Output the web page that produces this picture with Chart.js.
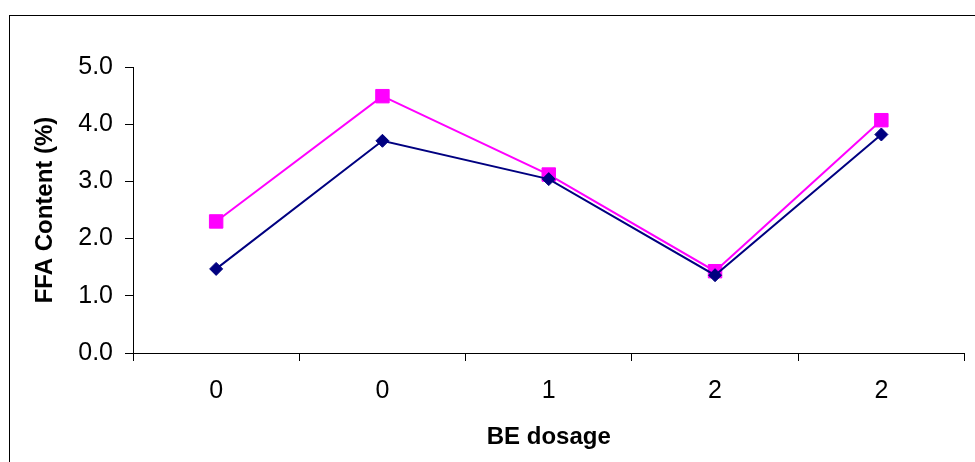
<!DOCTYPE html>
<html>
<head>
<meta charset="utf-8">
<script src="https://cdn.jsdelivr.net/npm/chart.js@4/dist/chart.umd.min.js"></script>
<style>
  html, body { margin: 0; padding: 0; background: #ffffff; }
  canvas { display: block; }
</style>
</head>
<body>
<canvas id="chart" width="975" height="462"></canvas>
<script>
// BE dosage categories and FFA content (%) for the two runs
const categories = ['0', '0', '1', '2', '2'];
const seriesA = [1.47, 3.71, 3.04, 1.36, 3.82];
const seriesB = [2.30, 4.49, 3.12, 1.43, 4.07];
const yTicks = [0, 1, 2, 3, 4, 5];

const FONT = '"Liberation Sans", Arial, Helvetica, sans-serif';

// thin outer frame around the whole chart
const framePlugin = {
  id: 'frame',
  beforeDraw(chart) {
    const ctx = chart.ctx;
    ctx.save();
    ctx.fillStyle = '#ffffff';
    ctx.fillRect(0, 0, chart.width, chart.height);
    ctx.strokeStyle = '#000000';
    ctx.lineWidth = 1;
    ctx.strokeRect(9.5, 15.5, 1200, 800);
    ctx.restore();
  }
};

new Chart(document.getElementById('chart'), {
  type: 'line',
  data: {
    labels: categories,
    datasets: [
      {
        data: seriesA,
        borderColor: '#000080',
        backgroundColor: '#000080',
        borderWidth: 2,
        pointStyle: 'rectRot',
        pointRadius: 6.5,
        pointBorderWidth: 1,
        pointBorderColor: '#000080',
        pointBackgroundColor: '#000080',
        tension: 0,
        clip: false
      },
      {
        data: seriesB,
        borderColor: '#FF00FF',
        backgroundColor: '#FF00FF',
        borderWidth: 2,
        pointStyle: 'rect',
        pointRadius: 9.5,
        pointBorderWidth: 1,
        pointBorderColor: '#FF00FF',
        pointBackgroundColor: '#FF00FF',
        tension: 0,
        clip: false
      }
    ]
  },
  options: {
    responsive: false,
    animation: false,
    events: [],
    layout: { padding: { left: 31, top: 67, right: 6, bottom: 10 } },
    plugins: {
      legend: { display: false },
      tooltip: { enabled: false }
    },
    scales: {
      x: {
        type: 'category',
        offset: true,
        afterFit(scale) { scale.height = 462 - 10 - 353; },
        grid: {
          offset: true,
          drawOnChartArea: false,
          drawTicks: true,
          tickLength: 8,
          color: '#000000',
          lineWidth: 1
        },
        border: { display: true, color: '#000000', width: 1 },
        ticks: {
          color: '#000000',
          padding: 15,
          maxRotation: 0,
          font: { family: FONT, size: 25 }
        },
        title: {
          display: true,
          text: 'BE dosage',
          color: '#000000',
          padding: 0,
          font: { family: FONT, size: 24, weight: 'bold' }
        }
      },
      y: {
        min: 0,
        max: 5,
        afterFit(scale) { scale.width = 133 - 31; },
        afterBuildTicks(scale) { scale.ticks = yTicks.map(v => ({ value: v })); },
        grid: {
          drawOnChartArea: false,
          drawTicks: true,
          tickLength: 8,
          color: '#000000',
          lineWidth: 1
        },
        border: { display: true, color: '#000000', width: 1 },
        ticks: {
          color: '#000000',
          padding: 12,
          font: { family: FONT, size: 25 },
          callback: v => Number(v).toFixed(1)
        },
        title: {
          display: true,
          text: 'FFA Content (%)',
          color: '#000000',
          padding: 0,
          font: { family: FONT, size: 24, weight: 'bold' }
        }
      }
    }
  },
  plugins: [framePlugin]
});
</script>
</body>
</html>
